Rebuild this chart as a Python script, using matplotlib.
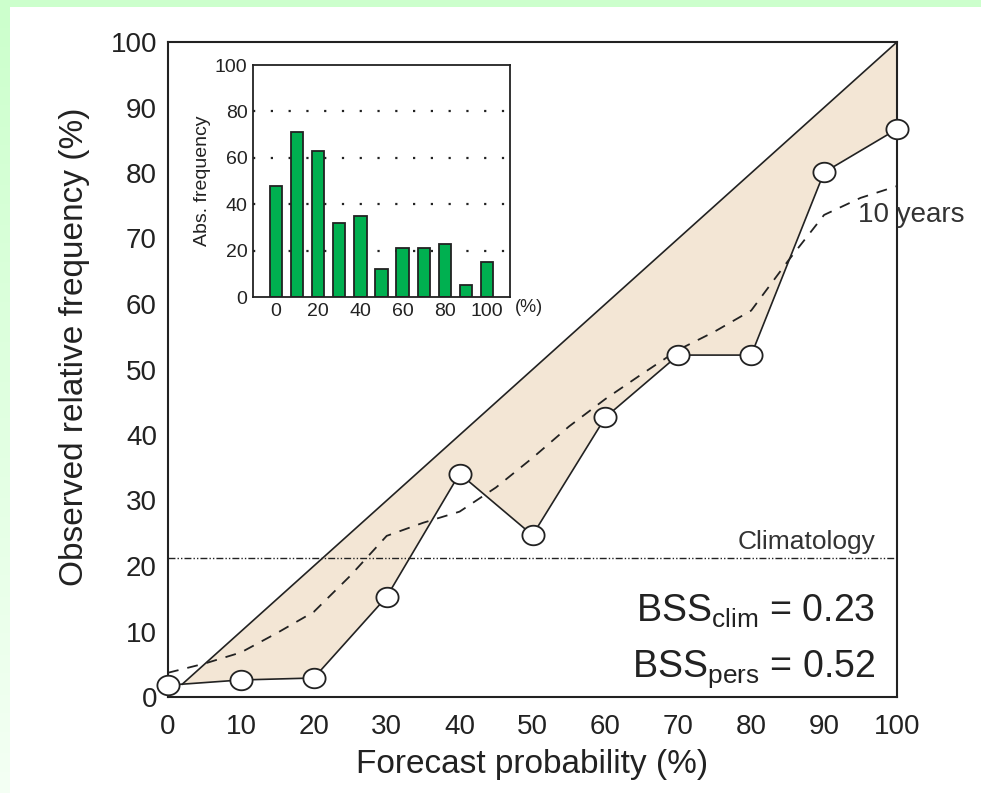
import numpy as np
import matplotlib
matplotlib.use("Agg")
import matplotlib.pyplot as plt
from matplotlib.patches import Rectangle
from matplotlib.path import Path
from matplotlib.colors import LinearSegmentedColormap

plt.rcParams['font.family'] = ['Liberation Sans', 'DejaVu Sans']
plt.rcParams['mathtext.default'] = 'regular'

# Reliability diagram data
prob = [0, 10, 20, 30, 40, 50, 60, 70, 80, 90, 100]
observed = [1.8, 2.6, 2.9, 15.3, 34.1, 24.7, 42.7, 52.2, 52.2, 80.1, 86.7]

# 10-year reference curve
ten_x = [0, 5, 10, 15, 20, 25, 30, 35, 40, 45, 50, 55, 60, 65, 70, 75, 80, 85, 90, 95, 100]
ten_y = [3.7, 5.1, 6.8, 9.8, 13, 18.5, 24.6, 26.6, 28.3, 32, 36.5, 41.3, 45.5, 49.3,
         53, 55.8, 59, 66.5, 73.6, 76.2, 78]

climatology = 21.2

# Forecast counts per probability class (inset)
hist_x = [0, 10, 20, 30, 40, 50, 60, 70, 80, 90, 100]
hist_counts = [48, 71, 63, 32, 35, 12, 21, 21, 23, 5, 15]

bss_clim = 0.23
bss_pers = 0.52

ink = '#222222'
fill_col = '#F3E6D5'
bar_col = '#00B050'

fig = plt.figure(figsize=(9.81, 7.93), dpi=100)
fig.patch.set_facecolor('white')

# green page border (top band and fading left band)
fig.patches.append(Rectangle((0, 1 - 7 / 793), 1, 7 / 793, transform=fig.transFigure,
                             facecolor='#CCFFCC', edgecolor='none', zorder=0))
grad_ax = fig.add_axes([0, 0, 10 / 981, 1 - 7 / 793], zorder=-1)
grad = np.linspace(0, 1, 256).reshape(-1, 1)
cmap = LinearSegmentedColormap.from_list('side', ['#F4FFF4', '#CCFFCC'])
grad_ax.imshow(grad, aspect='auto', cmap=cmap, origin='lower', extent=[0, 1, 0, 1])
grad_ax.axis('off')

# slightly flattened circle marker
t = np.linspace(0, 2 * np.pi, 61)
oval = Path(np.column_stack([np.cos(t), 0.88 * np.sin(t)]), closed=True)

ax = fig.add_axes([168 / 981, 1 - 697 / 793, 729 / 981, 655 / 793])

# where the perfect-reliability line meets the first observed segment
s = (observed[1] - observed[0]) / (prob[1] - prob[0])
x_cross = observed[0] / (1 - s)
xf = np.linspace(x_cross, 100, 800)
upper = xf
lower = np.interp(xf, prob, observed)
ax.fill_between(xf, lower, upper, where=upper >= lower, facecolor=fill_col,
                edgecolor='none', zorder=1)
ax.plot([x_cross, 100], [x_cross, 100], color=ink, lw=1.2, zorder=2)

ax.axhline(climatology, color=ink, lw=1.0, ls=(0, (5, 1.5, 1, 1.5, 1, 1.5)), zorder=2)
ax.plot(ten_x, ten_y, color=ink, lw=1.3, dashes=(6, 5), zorder=3)
ax.plot(prob, observed, color=ink, lw=1.2, marker=oval, ms=16, mfc='white',
        mec=ink, mew=1.3, zorder=4, clip_on=False)

ax.set_xlim(0, 100)
ax.set_ylim(0, 100)
ax.set_xticks(range(0, 101, 10))
ax.set_yticks(range(0, 101, 10))
ax.tick_params(length=0, labelsize=20, colors=ink, pad=12)
ax.tick_params(axis='y', pad=8)
for sp in ax.spines.values():
    sp.set_color(ink)
    sp.set_linewidth(1.5)
ax.set_xlabel('Forecast probability (%)', fontsize=24, color=ink, labelpad=7)
ax.set_ylabel('Observed relative frequency (%)', fontsize=24, color=ink)
ax.yaxis.set_label_coords(-0.107, 0.535)

ax.text(97, climatology + 0.6, 'Climatology', ha='right', va='bottom',
        fontsize=19, color='#333333')
ax.text(94.6, 73.6, '10 years', ha='left', va='center', fontsize=20, color='#333333',
        clip_on=False)
ax.text(97, 13.0, r'BSS$_{clim}$ = %.2f' % bss_clim, ha='right', va='center',
        fontsize=27, color=ink)
ax.text(97, 4.3, r'BSS$_{pers}$ = %.2f' % bss_pers, ha='right', va='center',
        fontsize=27, color=ink)

# inset histogram
ins = fig.add_axes([253 / 981, 1 - 297 / 793, 257 / 981, 232 / 793])
ins.set_xlim(-11, 111)
ins.set_ylim(0, 100)
for lvl in (20, 40, 60, 80):
    ins.axhline(lvl, color=ink, lw=1.6, ls=(0, (1, 7)), zorder=1)
ins.bar(hist_x, hist_counts, width=5.8, color=bar_col, edgecolor=ink, lw=1.3, zorder=2)
ins.set_xticks(range(0, 101, 20))
ins.set_yticks(range(0, 101, 20))
ins.tick_params(length=0, labelsize=14, colors=ink, pad=4)
for sp in ins.spines.values():
    sp.set_color(ink)
    sp.set_linewidth(1.3)
ins.set_ylabel('Abs. frequency', fontsize=14, color=ink, labelpad=3)
ins.text(1.02, -0.047, '(%)', transform=ins.transAxes, ha='left', va='center',
         fontsize=13, color=ink)

fig.savefig('out.png', dpi=100)
